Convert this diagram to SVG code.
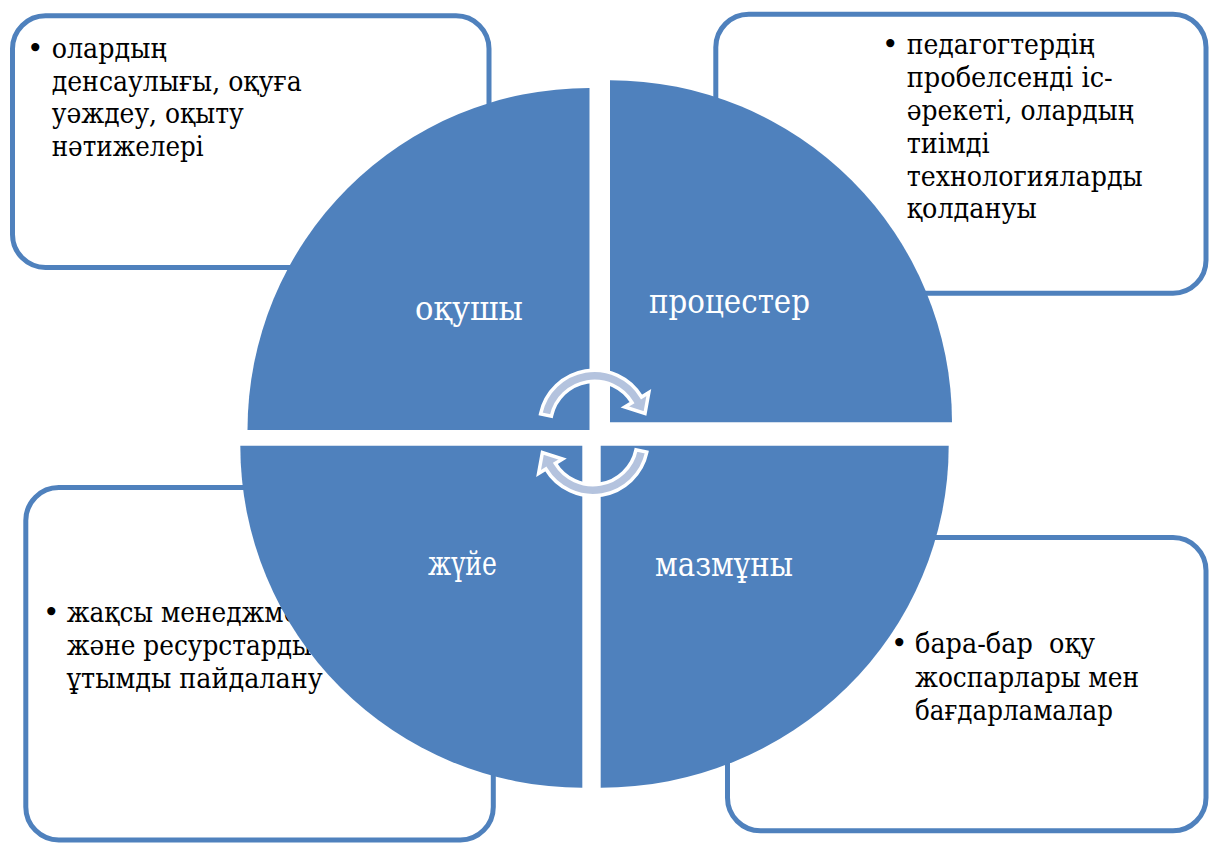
<svg xmlns="http://www.w3.org/2000/svg" width="1209" height="843" viewBox="0 0 1209 843">
<style>
.box{fill:#ffffff;stroke:#4f81bd;stroke-width:5}
.q{fill:#4f81bd}
text{font-family:"DejaVu Serif","Liberation Serif",serif}
.t{font-size:28px;fill:#000000}
.lbl{font-size:33px;fill:#ffffff}
.arr{fill:#b4c3de;stroke:#ffffff;stroke-width:3.5;stroke-linejoin:miter}
</style>
<rect width="1209" height="843" fill="#ffffff"/>
<g id="box-tl">
<rect class="box" x="12.5" y="15.8" width="476.5" height="251.7" rx="33"/>
<text class="t" x="27" y="58">•</text>
<text class="t" x="51.7" y="58" lengthAdjust="spacingAndGlyphs" textLength="115">олардың</text>
<text class="t" x="51.7" y="90.5" lengthAdjust="spacingAndGlyphs" textLength="250">денсаулығы, оқуға</text>
<text class="t" x="51.7" y="123" lengthAdjust="spacingAndGlyphs" textLength="192">уәждеу, оқыту</text>
<text class="t" x="51.7" y="155.5" lengthAdjust="spacingAndGlyphs" textLength="152">нәтижелері</text>
</g>
<g id="box-tr">
<rect class="box" x="715.8" y="14.2" width="490.2" height="279" rx="33"/>
<text class="t" x="882" y="54.3">•</text>
<text class="t" x="906.7" y="54.3" lengthAdjust="spacingAndGlyphs" textLength="188">педагогтердің</text>
<text class="t" x="906.7" y="87.1" lengthAdjust="spacingAndGlyphs" textLength="206">пробелсенді іс-</text>
<text class="t" x="906.7" y="119.9" lengthAdjust="spacingAndGlyphs" textLength="227">әрекеті, олардың</text>
<text class="t" x="906.7" y="152.7" lengthAdjust="spacingAndGlyphs" textLength="83">тиімді</text>
<text class="t" x="906.7" y="185.5" lengthAdjust="spacingAndGlyphs" textLength="236">технологияларды</text>
<text class="t" x="906.7" y="218.3" lengthAdjust="spacingAndGlyphs" textLength="130">қолдануы</text>
</g>
<g id="box-bl">
<rect class="box" x="25.8" y="487.5" width="467.5" height="352.5" rx="33"/>
<text class="t" x="43" y="621.7">•</text>
<text class="t" x="66.7" y="621.7" lengthAdjust="spacingAndGlyphs" textLength="262">жақсы менеджмент</text>
<text class="t" x="66.7" y="654.9" lengthAdjust="spacingAndGlyphs" textLength="245">және ресурстарды</text>
<text class="t" x="66.7" y="688.1" lengthAdjust="spacingAndGlyphs" textLength="256">ұтымды пайдалану</text>
</g>
<g id="box-br">
<rect class="box" x="727.5" y="537.5" width="478.5" height="293.3" rx="33"/>
<text class="t" x="891" y="653">•</text>
<text class="t" x="915" y="653" lengthAdjust="spacingAndGlyphs" textLength="180">бара-бар&#160; оқу</text>
<text class="t" x="915" y="686.5" lengthAdjust="spacingAndGlyphs" textLength="224">жоспарлары мен</text>
<text class="t" x="915" y="720" lengthAdjust="spacingAndGlyphs" textLength="198">бағдарламалар</text>
</g>
<g id="q-oqushy">
<path class="q" d="M589.5 430 L247.5 430 A342 342 0 0 1 589.5 88 Z"/>
<text class="lbl" x="415" y="320" lengthAdjust="spacingAndGlyphs" textLength="108">оқушы</text>
</g>
<g id="q-protsester">
<path class="q" d="M610 422.3 L610 80.3 A342 342 0 0 1 952 422.3 Z"/>
<text class="lbl" x="649" y="313" lengthAdjust="spacingAndGlyphs" textLength="161">процестер</text>
</g>
<g id="q-zhuie">
<path class="q" d="M582.3 445.7 L582.3 787.7 A342 342 0 0 1 240.3 445.7 Z"/>
<text class="lbl" x="428" y="575" lengthAdjust="spacingAndGlyphs" textLength="69">жүйе</text>
</g>
<g id="q-mazmuny">
<path class="q" d="M600.7 445.7 L948.7 445.7 A348 342 0 0 1 600.7 787.7 Z"/>
<text class="lbl" x="655" y="576" lengthAdjust="spacingAndGlyphs" textLength="138">мазмұны</text>
</g>
<g id="connectors">
<path id="arrow-top" class="arr" d="M540.6 413.9 A55 55 0 0 1 641.55 397 L648.8 392.6 L645 413.5 L624.8 407 L632.1 402.6 A44 44 0 0 0 551.4 416.2 Z"/>
<path id="arrow-bottom" class="arr" transform="rotate(180 593.7 433)" d="M540.6 413.9 A55 55 0 0 1 641.55 397 L648.8 392.6 L645 413.5 L624.8 407 L632.1 402.6 A44 44 0 0 0 551.4 416.2 Z"/>
</g>
</svg>
